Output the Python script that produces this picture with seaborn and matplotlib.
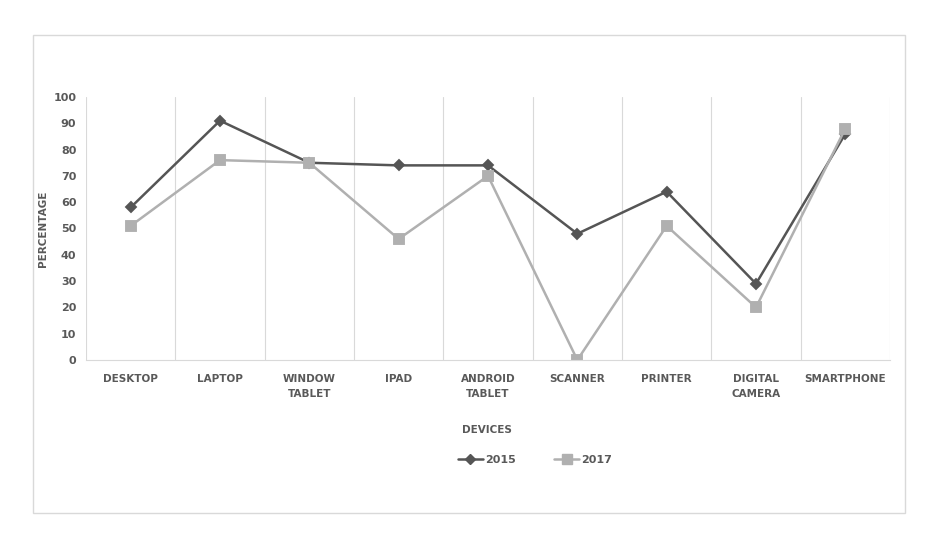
import matplotlib
matplotlib.use("Agg")
import matplotlib.pyplot as plt
import seaborn as sns
import pandas as pd
from matplotlib.patches import Rectangle

devices = ["DESKTOP", "LAPTOP", "WINDOW\nTABLET", "IPAD", "ANDROID\nTABLET",
           "SCANNER", "PRINTER", "DIGITAL\nCAMERA", "SMARTPHONE"]
years = ["2015", "2017"]
values_2015 = [58, 91, 75, 74, 74, 48, 64, 29, 86]
values_2017 = [51, 76, 75, 46, 70, 0, 51, 20, 88]
y_ticks = [0, 10, 20, 30, 40, 50, 60, 70, 80, 90, 100]

df = pd.DataFrame({
    "device": devices * 2,
    "value": values_2015 + values_2017,
    "year": [years[0]] * len(devices) + [years[1]] * len(devices),
})

sns.set_theme(style="white")
plt.rcParams["font.family"] = ["DejaVu Sans"]
text_color = "#595959"
c2015 = "#555555"
c2017 = "#b0b0b0"

fig = plt.figure(figsize=(9.35, 5.4), dpi=100)
fig.patches.append(Rectangle((33 / 935, 1 - 513 / 540), (905 - 33) / 935, (513 - 35) / 540,
                             transform=fig.transFigure, fill=False,
                             edgecolor="#d9d9d9", linewidth=1.0))
ax = fig.add_axes([86 / 935, 1 - 360 / 540, (890 - 86) / 935, (360 - 97) / 540])

sns.pointplot(data=df, x="device", y="value", hue="year", order=devices,
              hue_order=years, palette={"2015": c2015, "2017": c2017},
              markers=["D", "s"], linestyles=["-", "-"], errorbar=None,
              markersize=6, linewidth=1.8, ax=ax, legend=False)
for line in ax.lines:
    if line.get_marker() == "s":
        line.set_markersize(7)
    else:
        line.set_markersize(5.5)

ax.set_xlim(-0.5, len(devices) - 0.5)
ax.set_ylim(0, 100)
ax.set_yticks(y_ticks)
for b in range(len(devices) + 1):
    ax.axvline(b - 0.5, color="#d9d9d9", linewidth=0.8, zorder=0)
for s in ["top", "right", "left"]:
    ax.spines[s].set_visible(False)
ax.spines["bottom"].set_color("#d9d9d9")
ax.spines["bottom"].set_linewidth(0.8)
ax.tick_params(axis="both", length=0, colors=text_color)
ax.tick_params(axis="x", pad=10)
ax.tick_params(axis="y", pad=7)
for lbl in ax.get_xticklabels():
    lbl.set_fontsize(7.5)
    lbl.set_fontweight("bold")
    lbl.set_color(text_color)
    lbl.set_linespacing(1.6)
for lbl in ax.get_yticklabels():
    lbl.set_fontsize(8)
    lbl.set_fontweight("bold")
    lbl.set_color(text_color)
ax.set_ylabel("PERCENTAGE", fontsize=7.5, fontweight="bold", color=text_color, labelpad=4)
ax.set_xlabel("")
fig.text(487 / 935, 1 - 430 / 540, "DEVICES", ha="center", va="center",
         fontsize=7.5, fontweight="bold", color=text_color)

handles = [
    plt.Line2D([], [], color=c2015, marker="D", markersize=5, linewidth=1.8),
    plt.Line2D([], [], color=c2017, marker="s", markersize=6.5, linewidth=1.8),
]
leg = fig.legend(handles, years, loc="center", bbox_to_anchor=(535 / 935, 1 - 460 / 540),
                 ncol=2, frameon=False, fontsize=8, handlelength=2.2,
                 columnspacing=3.5, handletextpad=0.2)
for t in leg.get_texts():
    t.set_color(text_color)
    t.set_fontweight("bold")

fig.savefig("out.png", dpi=100)
